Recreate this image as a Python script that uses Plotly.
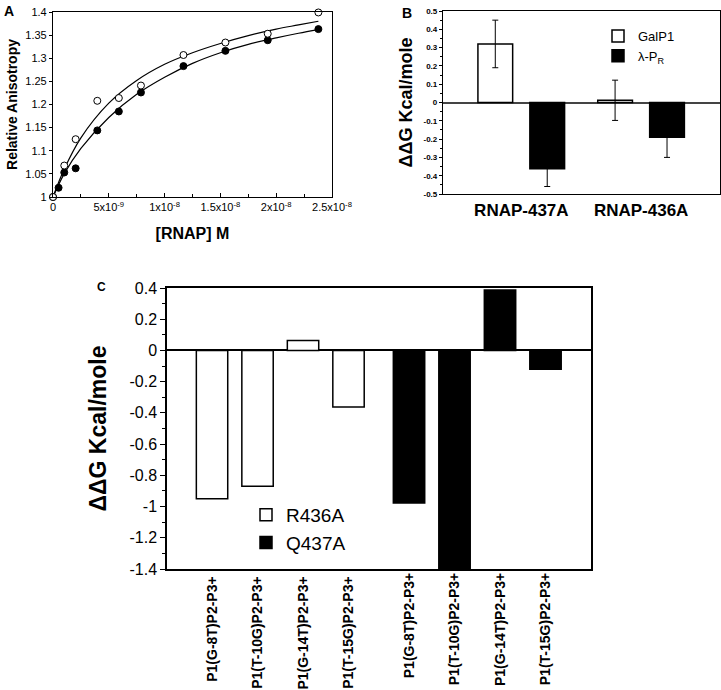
import plotly.graph_objects as go

W, H = 721, 690
FONT = "Liberation Sans, Arial, Helvetica, sans-serif"

# ---------------- Panel A data ----------------
open_conc = [0, 1.01e-9, 2.03e-9, 3.97e-9, 5.9e-9, 7.88e-9, 1.169e-8, 1.545e-8, 1.924e-8, 2.378e-8]
open_aniso = [1.0, 1.068, 1.125, 1.208, 1.214, 1.241, 1.307, 1.334, 1.353, 1.399]
filled_conc = [0, 0.5e-9, 1.01e-9, 2.03e-9, 3.97e-9, 5.9e-9, 7.88e-9, 1.169e-8, 1.545e-8, 1.924e-8, 2.378e-8]
filled_aniso = [1.0, 1.02, 1.053, 1.062, 1.144, 1.185, 1.226, 1.283, 1.316, 1.339, 1.363]
fit_conc = [0, 0.1e-8, 0.25e-8, 0.5e-8, 0.75e-8, 1.0e-8, 1.25e-8, 1.5e-8, 1.75e-8, 2.0e-8, 2.2e-8, 2.378e-8]
fit_open = [1.0, 1.06, 1.128, 1.203, 1.252, 1.287, 1.312, 1.332, 1.349, 1.363, 1.372, 1.380]
fit_filled = [1.0, 1.05, 1.105, 1.172, 1.222, 1.259, 1.289, 1.312, 1.330, 1.344, 1.354, 1.362]
a_xtick_vals = [0, 5e-9, 1e-8, 1.5e-8, 2e-8, 2.5e-8]
a_xtick_text = ["0", "5x10<sup>-9</sup>", "1x10<sup>-8</sup>", "1.5x10<sup>-8</sup>",
                "2x10<sup>-8</sup>", "2.5x10<sup>-8</sup>"]
a_ytick_vals = [1, 1.05, 1.1, 1.15, 1.2, 1.25, 1.3, 1.35, 1.4]
a_ytick_text = ["1", "1.05", "1.1", "1.15", "1.2", "1.25", "1.3", "1.35", "1.4"]

# ---------------- Panel B data ----------------
b_categories = ["RNAP-437A", "RNAP-436A"]
b_galp1 = [0.32, 0.012]
b_galp1_err = [0.13, 0.11]
b_lpr = [-0.362, -0.19]
b_lpr_err = [0.097, 0.11]
b_ytick_vals = [0.5, 0.4, 0.3, 0.2, 0.1, 0, -0.1, -0.2, -0.3, -0.4, -0.5]
b_ytick_text = ["0.5", "0.4", "0.3", "0.2", "0.1", "0", "-0.1", "-0.2", "-0.3", "-0.4", "-0.5"]

# ---------------- Panel C data ----------------
c_categories = ["P1(G-8T)P2-P3+", "P1(T-10G)P2-P3+", "P1(G-14T)P2-P3+", "P1(T-15G)P2-P3+"]
c_r436a = [-0.95, -0.87, 0.064, -0.363]
c_q437a = [-0.977, -1.4, 0.387, -0.12]
c_ytick_vals = [0.4, 0.2, 0, -0.2, -0.4, -0.6, -0.8, -1, -1.2, -1.4]
c_ytick_text = ["0.4", "0.2", "0", "-0.2", "-0.4", "-0.6", "-0.8", "-1", "-1.2", "-1.4"]


def px_x(p):
    return p / W


def px_y(p):
    return 1 - p / H


fig = go.Figure()

# Panel A traces
fig.add_trace(go.Scatter(x=fit_conc, y=fit_open, mode="lines", line=dict(color="black", width=1.2, shape="spline"),
                         xaxis="x", yaxis="y", showlegend=False, hoverinfo="skip"))
fig.add_trace(go.Scatter(x=fit_conc, y=fit_filled, mode="lines", line=dict(color="black", width=1.2, shape="spline"),
                         xaxis="x", yaxis="y", showlegend=False, hoverinfo="skip"))
fig.add_trace(go.Scatter(x=filled_conc, y=filled_aniso, mode="markers",
                         marker=dict(symbol="circle", size=7, color="black", line=dict(color="black", width=1)),
                         xaxis="x", yaxis="y", showlegend=False, cliponaxis=False))
fig.add_trace(go.Scatter(x=open_conc, y=open_aniso, mode="markers",
                         marker=dict(symbol="circle", size=7, color="white", line=dict(color="black", width=1)),
                         xaxis="x", yaxis="y", showlegend=False, cliponaxis=False))

# Panel B traces
fig.add_trace(go.Bar(x=b_categories, y=b_galp1, name="GalP1", xaxis="x2", yaxis="y2",
                     marker=dict(color="white", line=dict(color="black", width=1.5)),
                     width=0.29, offset=-0.3625,
                     error_y=dict(type="data", array=b_galp1_err, color="black", thickness=1, width=3),
                     legend="legend"))
fig.add_trace(go.Bar(x=b_categories, y=b_lpr, name="λ-P<sub>R</sub>", xaxis="x2", yaxis="y2",
                     marker=dict(color="black", line=dict(color="black", width=1.5)),
                     width=0.29, offset=0.071,
                     error_y=dict(type="data", array=b_lpr_err, color="black", thickness=1, width=3),
                     legend="legend"))

# Panel C traces
fig.add_trace(go.Bar(x=c_categories, y=c_r436a, name="R436A", xaxis="x3", yaxis="y3",
                     marker=dict(color="white", line=dict(color="black", width=1.5)),
                     width=0.69, legend="legend2", cliponaxis=True))
fig.add_trace(go.Bar(x=c_categories, y=c_q437a, name="Q437A", xaxis="x4", yaxis="y3",
                     marker=dict(color="black", line=dict(color="black", width=1.5)),
                     width=0.69, legend="legend2", cliponaxis=True))

axis_common = dict(showgrid=False, linecolor="black", color="black", mirror=True, showline=True,
                   automargin=False)

fig.update_layout(
    width=W, height=H,
    margin=dict(l=0, r=0, t=0, b=0),
    paper_bgcolor="white", plot_bgcolor="white",
    font=dict(family=FONT, color="black"),
    barmode="overlay",
    # ---- Panel A axes ----
    xaxis=dict(axis_common, domain=[px_x(53), px_x(332)], anchor="y", range=[0, 2.5e-8],
               linewidth=1.2, ticks="inside", ticklen=4, tickvals=a_xtick_vals, ticktext=a_xtick_text,
               minor=dict(ticks="inside", ticklen=3, dtick=2.5e-9, tick0=0),
               tickfont=dict(size=11), zeroline=False,
               title=dict(text="<b>[RNAP] M</b>", font=dict(size=16), standoff=15)),
    yaxis=dict(axis_common, domain=[px_y(197), px_y(12)], anchor="x", range=[1, 1.4],
               linewidth=1.2, ticks="outside", ticklen=3, tickvals=a_ytick_vals, ticktext=a_ytick_text,
               tickfont=dict(size=11), zeroline=False,
               title=dict(text="<b>Relative Anisotropy</b>", font=dict(size=14), standoff=4)),
    # ---- Panel B axes ----
    xaxis2=dict(axis_common, domain=[px_x(443), px_x(719.5)], anchor="y2", range=[-0.654, 1.654],
                linewidth=1.2, ticks="", tickfont=dict(size=17, family=FONT), zeroline=False,
                tickvals=b_categories, ticktext=["<b>" + c + "</b>" for c in b_categories]),
    yaxis2=dict(axis_common, domain=[px_y(194), px_y(11)], anchor="x2", range=[-0.5, 0.5],
                linewidth=1.2, ticks="outside", ticklen=3, tickvals=b_ytick_vals,
                ticktext=["<b>" + t + "</b>" for t in b_ytick_text],
                minor=dict(ticks="outside", ticklen=2, dtick=0.05, tick0=0),
                tickfont=dict(size=8), zeroline=True, zerolinecolor="#444", zerolinewidth=1.5,
                title=dict(text="<b>ΔΔG Kcal/mole</b>", font=dict(size=18), standoff=6)),
    # ---- Panel C axes ----
    xaxis3=dict(axis_common, domain=[px_x(167), px_x(591)], anchor="y3", range=[-0.99, 8.33],
                linewidth=1.5, ticks="", tickangle=-90, zeroline=False,
                tickvals=c_categories, ticktext=["<b>" + c + "</b>" for c in c_categories],
                tickfont=dict(size=14)),
    xaxis4=dict(domain=[px_x(167), px_x(591)], anchor="y3", overlaying="x3", range=[-5.32, 4.0],
                showline=False, showgrid=False, ticks="", tickangle=-90, zeroline=False, automargin=False,
                tickvals=c_categories, ticktext=["<b>" + c + "</b>" for c in c_categories],
                tickfont=dict(size=14, color="black")),
    yaxis3=dict(axis_common, domain=[px_y(569), px_y(288)], anchor="x3", range=[-1.4, 0.4],
                linewidth=1.5, ticks="outside", ticklen=5, tickvals=c_ytick_vals, ticktext=c_ytick_text,
                minor=dict(ticks="outside", ticklen=3, dtick=0.1, tick0=0),
                tickfont=dict(size=16), zeroline=True, zerolinecolor="black", zerolinewidth=1.5,
                title=dict(text="<b>ΔΔG Kcal/mole</b>", font=dict(size=23), standoff=16)),
    legend=dict(x=px_x(598), y=px_y(21), xanchor="left", yanchor="top", bgcolor="rgba(0,0,0,0)",
                font=dict(size=13), tracegroupgap=0, itemwidth=30),
    legend2=dict(x=px_x(246), y=px_y(496), xanchor="left", yanchor="top", bgcolor="rgba(0,0,0,0)",
                 font=dict(size=19), tracegroupgap=0, itemwidth=30),
    annotations=[
        dict(text="<b>A</b>", x=px_x(2), y=px_y(1), xref="paper", yref="paper", xanchor="left", yanchor="top",
             showarrow=False, font=dict(size=14)),
        dict(text="<b>B</b>", x=px_x(400), y=px_y(3), xref="paper", yref="paper", xanchor="left", yanchor="top",
             showarrow=False, font=dict(size=14)),
        dict(text="<b>C</b>", x=px_x(95), y=px_y(278), xref="paper", yref="paper", xanchor="left", yanchor="top",
             showarrow=False, font=dict(size=12)),
    ],
)

fig.write_html("out.html", config={"displayModeBar": False},
               post_script="document.body.style.margin='0';")
